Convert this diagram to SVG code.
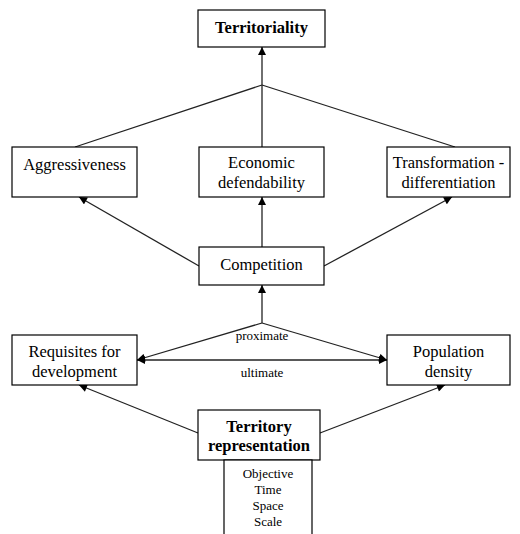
<svg xmlns="http://www.w3.org/2000/svg" width="520" height="534" viewBox="0 0 520 534">
<style>
.box{fill:#fff;stroke:#000;stroke-width:1.2}
.t{font-family:"Liberation Serif","DejaVu Serif","Times New Roman",serif;font-size:16.5px;fill:#000;text-anchor:middle}
.b{font-weight:bold}
.s{font-size:13px}
.c{stroke:#222;stroke-width:1.3;fill:none}
</style>
<defs>
<marker id="ah" viewBox="0 0 10 10" refX="10" refY="5" markerWidth="9" markerHeight="8" orient="auto-start-reverse" markerUnits="userSpaceOnUse"><path d="M0,0 L10,5 L0,10 z" fill="#000"/></marker>
</defs>
<rect width="520" height="534" fill="#fff"/>
<g id="connectors">
<line class="c" x1="262" y1="85" x2="262" y2="47" marker-end="url(#ah)"/>
<line class="c" x1="262" y1="85" x2="75" y2="147"/>
<line class="c" x1="262" y1="85" x2="262" y2="147"/>
<line class="c" x1="262" y1="85" x2="455" y2="147"/>
<line class="c" x1="199" y1="266" x2="79" y2="197" marker-end="url(#ah)"/>
<line class="c" x1="262" y1="247" x2="262" y2="197" marker-end="url(#ah)"/>
<line class="c" x1="324" y1="266" x2="452" y2="197" marker-end="url(#ah)"/>
<line class="c" x1="262" y1="323" x2="262" y2="285" marker-end="url(#ah)"/>
<line class="c" x1="262" y1="323" x2="137" y2="360" marker-end="url(#ah)"/>
<line class="c" x1="262" y1="323" x2="387" y2="360" marker-end="url(#ah)"/>
<line class="c" x1="137" y1="360" x2="387" y2="360" marker-start="url(#ah)" marker-end="url(#ah)"/>
<line class="c" x1="198" y1="433" x2="79" y2="385" marker-end="url(#ah)"/>
<line class="c" x1="320" y1="433" x2="445" y2="385" marker-end="url(#ah)"/>
<text class="t s" x="262" y="340">proximate</text>
<text class="t s" x="262" y="377">ultimate</text>
</g>
<g id="territoriality">
<rect class="box" x="198" y="10" width="127" height="37"/>
<text class="t b" x="261.5" y="33">Territoriality</text>
</g>
<g id="aggressiveness">
<rect class="box" x="12" y="147" width="125" height="50"/>
<text class="t" x="74.5" y="170">Aggressiveness</text>
</g>
<g id="economic">
<rect class="box" x="199" y="147" width="125" height="50"/>
<text class="t" x="261.5" y="168">Economic</text>
<text class="t" x="261.5" y="188">defendability</text>
</g>
<g id="transformation">
<rect class="box" x="387" y="147" width="123" height="50"/>
<text class="t" x="448.5" y="168">Transformation -</text>
<text class="t" x="448.5" y="188">differentiation</text>
</g>
<g id="competition">
<rect class="box" x="199" y="247" width="125" height="38"/>
<text class="t" x="261.5" y="270">Competition</text>
</g>
<g id="requisites">
<rect class="box" x="12" y="335" width="125" height="50"/>
<text class="t" x="74.5" y="357">Requisites for</text>
<text class="t" x="74.5" y="377">development</text>
</g>
<g id="population">
<rect class="box" x="387" y="335" width="123" height="50"/>
<text class="t" x="448.5" y="357">Population</text>
<text class="t" x="448.5" y="377">density</text>
</g>
<g id="territory-representation">
<rect class="box" x="198" y="410" width="122" height="50"/>
<text class="t b" x="259" y="432">Territory</text>
<text class="t b" x="259" y="451">representation</text>
</g>
<g id="attributes">
<rect class="box" x="224" y="460" width="88" height="80"/>
<text class="t s" x="268" y="478">Objective</text>
<text class="t s" x="268" y="494">Time</text>
<text class="t s" x="268" y="510">Space</text>
<text class="t s" x="268" y="526">Scale</text>
</g>
</svg>
